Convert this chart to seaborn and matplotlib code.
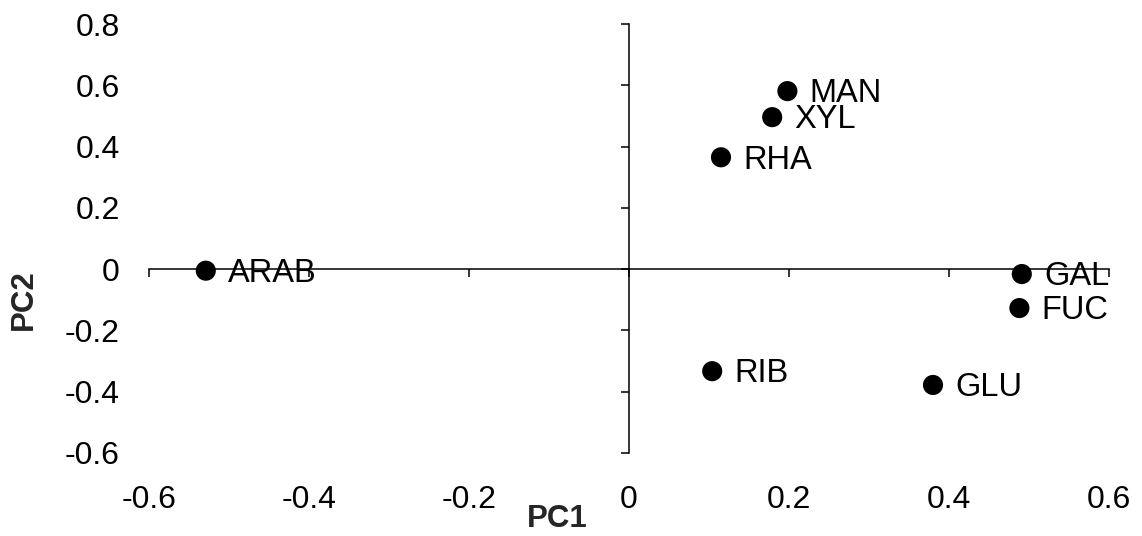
import matplotlib
matplotlib.use("Agg")
import matplotlib.pyplot as plt
import seaborn as sns
import pandas as pd

labels = ["ARAB", "MAN", "XYL", "RHA", "GAL", "FUC", "RIB", "GLU"]
pc1 = [-0.529, 0.198, 0.179, 0.115, 0.491, 0.488, 0.104, 0.380]
pc2 = [-0.005, 0.581, 0.496, 0.365, -0.016, -0.127, -0.333, -0.378]
xticks = [-0.6, -0.4, -0.2, 0, 0.2, 0.4, 0.6]
yticks = [-0.6, -0.4, -0.2, 0, 0.2, 0.4, 0.6, 0.8]

def fmt(v):
    s = f"{v:.1f}"
    return "0" if abs(v) < 1e-9 else s

df = pd.DataFrame({"label": labels, "PC1": pc1, "PC2": pc2})

sns.set_style("white")
plt.rcParams["font.family"] = ["Liberation Sans", "DejaVu Sans"]

fig = plt.figure(figsize=(11.42, 5.36), dpi=100)
pos = [149 / 1142, 1 - 453 / 536, (1109 - 149) / 1142, (453 - 24) / 536]
ax = fig.add_axes(pos)
sns.scatterplot(data=df, x="PC1", y="PC2", ax=ax, color="black", s=210,
                edgecolor="none", zorder=3, clip_on=False)
for lab, x, y in zip(labels, pc1, pc2):
    ax.annotate(lab, (x, y), xytext=(16, -2), textcoords="offset points",
                fontsize=23.5, va="center", ha="left", color="black", zorder=2)

ax.set_xlim(-0.6, 0.6)
ax.set_ylim(-0.6, 0.8)
ax.set_xticks(xticks)
ax.set_yticks(yticks)
ax.spines["left"].set_position(("data", 0))
ax.spines["bottom"].set_position(("data", 0))
ax.spines["right"].set_visible(False)
ax.spines["top"].set_visible(False)
for s in ("left", "bottom"):
    ax.spines[s].set_color("black")
    ax.spines[s].set_linewidth(1.1)
    ax.spines[s].set_zorder(1)
ax.tick_params(axis="both", direction="out", length=6, width=1.1, color="black",
               labelbottom=False, labelleft=False, bottom=True, left=True)
ax.set_xlabel("")
ax.set_ylabel("")

# tick labels placed at the outer edges (Excel "low" position)
ax2 = fig.add_axes(pos, sharex=ax, sharey=ax)
ax2.patch.set_visible(False)
for s in ax2.spines.values():
    s.set_visible(False)
ax2.tick_params(axis="both", length=0, labelsize=23, labelcolor="black")
ax2.tick_params(axis="x", pad=23)
ax2.tick_params(axis="y", pad=21)
ax2.set_xticks(xticks)
ax2.set_yticks(yticks)
ax2.set_xticklabels([fmt(v) for v in xticks])
ax2.set_yticklabels([fmt(v) for v in yticks])
ax2.set_xlabel("")
ax2.set_ylabel("")
ax2.grid(False)

fig.text(557 / 1142, 1 - 519 / 536, "PC1", fontsize=22.5, fontweight="bold",
         ha="center", va="center")
fig.text(24 / 1142, 1 - 300 / 536, "PC2", fontsize=22.5, fontweight="bold",
         ha="center", va="center", rotation=90)

fig.savefig("out.png", dpi=100)
